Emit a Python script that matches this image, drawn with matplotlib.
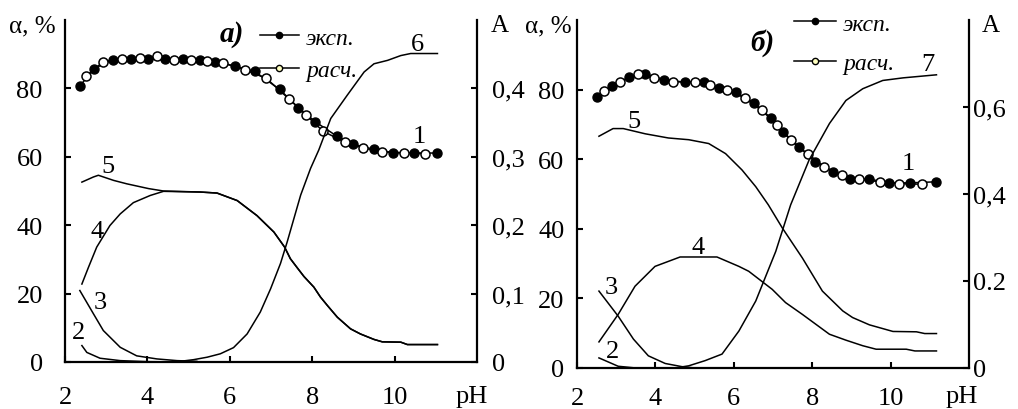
import matplotlib
matplotlib.use('Agg')
import matplotlib.pyplot as plt
from matplotlib.lines import Line2D

plt.rcParams['font.family'] = ['Liberation Serif', 'DejaVu Serif']
plt.rcParams['font.size'] = 19

W, H = 1018, 410

# ---- panel a) ----
ph_exp_a = [2.36, 2.71, 3.16, 3.61, 4.01, 4.42, 4.86, 5.28, 5.63, 6.12, 6.60, 7.21, 7.66,
            8.08, 8.59, 9.00, 9.49, 9.97, 10.47, 11.03]
alpha_exp_a = [80.7, 85.8, 88.4, 88.7, 88.5, 88.5, 88.7, 88.2, 87.8, 86.5, 85.0, 79.7, 74.4,
               70.2, 66.1, 63.6, 62.2, 61.2, 61.1, 61.1]
ph_calc_a = [2.51, 2.93, 3.38, 3.81, 4.23, 4.65, 5.07, 5.45, 5.84, 6.36, 6.89, 7.43, 7.86,
             8.27, 8.80, 9.24, 9.70, 10.23, 10.74]
alpha_calc_a = [83.6, 87.8, 88.7, 89.0, 89.4, 88.2, 88.4, 87.9, 87.5, 85.5, 82.9, 77.0, 72.1,
                67.4, 64.3, 62.6, 61.4, 61.2, 60.9]

ph_a2 = [2.41, 2.53, 2.85, 3.34, 4.0, 4.8]
a2 = [4.8, 2.8, 1.1, 0.4, 0.1, 0.0]
ph_a3 = [2.36, 2.69, 2.93, 3.34, 3.74, 4.23, 4.72, 5.2]
a3 = [20.9, 14.1, 9.2, 4.3, 1.8, 0.9, 0.4, 0.2]
ph_a4 = [2.41, 2.57, 2.77, 3.09, 3.34, 3.66, 4.07, 4.39, 5.28, 5.69, 6.18, 6.66, 7.07, 7.33,
         7.47, 7.64, 7.80, 8.04, 8.20, 8.37, 8.61, 8.93, 9.17, 9.50, 9.70, 10.15, 10.31, 11.04]
a4 = [22.8, 27.7, 33.6, 39.9, 43.3, 46.6, 48.7, 49.9, 49.7, 49.4, 47.2, 42.8, 38.0, 33.6,
      30.2, 27.5, 25.0, 21.9, 19.0, 16.5, 13.1, 9.7, 8.2, 6.6, 5.9, 5.8, 5.1, 5.1]
ph_a5 = [2.41, 2.69, 2.81, 3.18, 3.50, 4.03, 4.39, 5.28, 5.69, 6.18, 6.66, 7.07, 7.33,
         7.47, 7.64, 7.80, 8.04, 8.20, 8.37, 8.61, 8.93, 9.17, 9.50, 9.70, 10.15, 10.31, 11.04]
a5 = [52.6, 54.1, 54.6, 53.1, 52.1, 50.7, 50.0, 49.7, 49.4, 47.2, 42.8, 38.0, 33.6,
      30.2, 27.5, 25.0, 21.9, 19.0, 16.5, 13.1, 9.7, 8.2, 6.6, 5.9, 5.8, 5.1, 5.1]
ph_a6 = [4.3, 4.8, 5.12, 5.45, 5.77, 6.09, 6.42, 6.74, 6.99, 7.23, 7.39, 7.72, 7.96, 8.16,
         8.45, 8.85, 9.26, 9.50, 9.83, 10.15, 10.39, 11.04]
A6 = [0.0, 0.001, 0.0034, 0.007, 0.012, 0.021, 0.041, 0.073, 0.107, 0.144, 0.175, 0.244,
      0.283, 0.31, 0.356, 0.39, 0.424, 0.436, 0.441, 0.448, 0.451, 0.451]

# ---- panel b) ----
ph_exp_b = [2.52, 2.90, 3.32, 3.74, 4.21, 4.76, 5.23, 5.63, 6.06, 6.51, 6.94, 7.26, 7.67,
            8.08, 8.52, 8.97, 9.44, 9.97, 10.49, 11.15]
alpha_exp_b = [78.0, 80.9, 83.5, 84.5, 82.9, 82.1, 82.1, 80.5, 79.2, 76.2, 71.9, 67.8, 63.5,
               59.2, 56.4, 54.3, 54.3, 53.2, 53.2, 53.5]
ph_calc_b = [2.69, 3.09, 3.55, 3.97, 4.46, 5.00, 5.40, 5.83, 6.28, 6.71, 7.11, 7.45, 7.90,
             8.31, 8.75, 9.19, 9.72, 10.21, 10.80]
alpha_calc_b = [79.5, 82.3, 84.5, 83.2, 82.3, 82.1, 81.3, 79.9, 77.6, 74.0, 69.9, 65.4, 61.4,
                57.8, 55.4, 54.3, 53.5, 53.0, 52.8]

ph_b2 = [2.56, 3.05, 3.5, 4.5]
b2 = [2.9, 0.5, 0.0, 0.0]
ph_b3 = [2.56, 3.05, 3.44, 3.82, 4.25, 4.67, 5.0]
b3 = [22.1, 14.9, 8.3, 3.5, 1.3, 0.4, 0.0]
ph_b4 = [2.56, 3.05, 3.48, 3.99, 4.63, 5.57, 6.13, 6.38, 6.98, 7.32, 7.75, 8.44, 8.86, 9.29,
         9.63, 10.40, 10.62, 11.17]
b4 = [7.5, 15.4, 23.5, 29.2, 31.9, 31.9, 29.2, 27.8, 22.6, 18.8, 15.4, 9.7, 8.0, 6.4,
      5.4, 5.4, 4.9, 4.9]
ph_b5 = [2.56, 2.92, 3.18, 3.74, 4.33, 4.85, 5.36, 5.79, 6.21, 6.56, 6.88, 7.24, 7.75, 8.26,
         8.78, 9.03, 9.46, 10.06, 10.66, 10.87, 11.17]
b5 = [66.6, 68.8, 68.8, 67.3, 66.1, 65.6, 64.5, 61.6, 56.9, 52.1, 46.9, 40.2, 31.6, 22.1,
      16.4, 14.5, 12.4, 10.5, 10.4, 9.9, 9.9]
ph_b7 = [4.5, 4.85, 5.27, 5.70, 6.13, 6.56, 7.07, 7.45, 7.92, 8.44, 8.86, 9.29, 9.80,
         10.32, 11.17]
B7 = [0.0, 0.005, 0.017, 0.032, 0.085, 0.154, 0.268, 0.375, 0.478, 0.562, 0.615, 0.642,
      0.661, 0.667, 0.674]

x_ticks = [2, 4, 6, 8, 10]
a_ticks_left = [0, 20, 40, 60, 80]
a_ticks_right = [0, 0.1, 0.2, 0.3, 0.4]
a_right_labels = ['0', '0,1', '0,2', '0,3', '0,4']
b_ticks_right = [0, 0.2, 0.4, 0.6]
b_right_labels = ['0', '0.2', '0,4', '0,6']


def fx(px):
    return px / W


def fy(py):
    return 1 - py / H


fig = plt.figure(figsize=(W / 100, H / 100), dpi=100)
ax_a = fig.add_axes([fx(65), fy(363), fx(477 - 65), (363 - 21) / H])
ax_b = fig.add_axes([fx(577), fy(369), fx(969 - 577), (369 - 21) / H])

lw = 1.1
line_kw = dict(color='black', lw=lw)


def style(ax, tw, ylab_pad, ytw_pad, xpad):
    ax.set_xlim(2, 12)
    ax.set_ylim(0, 100)
    for a in (ax, tw):
        a.spines['top'].set_visible(False)
        for s in a.spines.values():
            s.set_linewidth(1.6)
    tw.spines['left'].set_visible(False)
    tw.spines['bottom'].set_visible(False)
    ax.spines['right'].set_visible(False)
    ax.set_xticks(x_ticks)
    ax.set_yticks(a_ticks_left)
    ax.tick_params(axis='y', direction='in', length=4, width=1.5, pad=ylab_pad)
    ax.tick_params(axis='x', direction='in', length=4, width=1.5, pad=xpad)
    tw.tick_params(axis='y', direction='in', length=4, width=1.5, pad=ytw_pad)


def draw_alpha(ax, ph_e, al_e, ph_c, al_c):
    ax.plot(ph_e, al_e, '-', marker='o', ms=6.5, mfc='black', mec='black', **line_kw, zorder=4)
    ax.plot(ph_c, al_c, '-', marker='o', ms=6.5, mfc='white', mec='black', mew=1.1,
            **line_kw, zorder=5)


legend_handles = [
    Line2D([], [], color='black', lw=1.1, marker='o', ms=4.5, mfc='black', mec='black'),
    Line2D([], [], color='black', lw=1.1, marker='o', ms=4.5, mfc='#ffffc0', mec='black'),
]
legend_labels = ['эксп.', 'расч.']

# panel a
tw_a = ax_a.twinx()
style(ax_a, tw_a, 16, 11, 17)
tw_a.set_ylim(0, 0.5)
tw_a.set_yticks(a_ticks_right)
tw_a.set_yticklabels(a_right_labels)
draw_alpha(ax_a, ph_exp_a, alpha_exp_a, ph_calc_a, alpha_calc_a)
for ph, v in [(ph_a2, a2), (ph_a3, a3), (ph_a4, a4), (ph_a5, a5)]:
    ax_a.plot(ph, v, **line_kw)
tw_a.plot(ph_a6, A6, **line_kw)
for lab, x, y in [('1', 10.59, 66.2), ('5', 3.05, 57.4), ('6', 10.56, 93.1),
                  ('4', 2.78, 38.4), ('3', 2.85, 17.6), ('2', 2.32, 8.8)]:
    ax_a.text(x, y, lab, ha='center', va='center')
ax_a.legend(legend_handles, legend_labels, loc='upper left',
            bbox_to_anchor=(fx(260), fy(28)), bbox_transform=fig.transFigure,
            frameon=False, borderpad=0, borderaxespad=0, handlelength=1.65,
            handletextpad=0.3, labelspacing=0.48, prop={'style': 'italic', 'size': 17})

# panel b
tw_b = ax_b.twinx()
style(ax_b, tw_b, 9, 3, 14)
tw_b.set_ylim(0, 0.8)
tw_b.set_yticks(b_ticks_right)
tw_b.set_yticklabels(b_right_labels)
draw_alpha(ax_b, ph_exp_b, alpha_exp_b, ph_calc_b, alpha_calc_b)
for ph, v in [(ph_b2, b2), (ph_b3, b3), (ph_b4, b4), (ph_b5, b5)]:
    ax_b.plot(ph, v, **line_kw)
tw_b.plot(ph_b7, B7, **line_kw)
for lab, x, y in [('1', 10.44, 58.9), ('5', 3.46, 71.1), ('7', 10.95, 87.4),
                  ('4', 5.10, 34.9), ('3', 2.87, 23.4), ('2', 2.90, 4.9)]:
    ax_b.text(x, y, lab, ha='center', va='center')
ax_b.legend(legend_handles, legend_labels, loc='upper left',
            bbox_to_anchor=(fx(794), fy(14)), bbox_transform=fig.transFigure,
            frameon=False, borderpad=0, borderaxespad=0, handlelength=1.78,
            handletextpad=0.3, labelspacing=0.75, prop={'style': 'italic', 'size': 17})

# axis titles and panel letters
fig.text(fx(32), fy(26), 'α, %', ha='center', va='center', fontsize=18)
fig.text(fx(500), fy(26), 'A', ha='center', va='center', fontsize=18)
fig.text(fx(548), fy(26), 'α, %', ha='center', va='center', fontsize=18)
fig.text(fx(991), fy(26), 'A', ha='center', va='center', fontsize=18)
fig.text(fx(472), fy(397), 'pH', ha='center', va='center')
fig.text(fx(962), fy(397), 'pH', ha='center', va='center')
fig.text(fx(232), fy(34), 'а)', ha='center', va='center', fontsize=21,
         fontweight='bold', fontstyle='italic')
fig.text(fx(762), fy(43), 'б)', ha='center', va='center', fontsize=21,
         fontweight='bold', fontstyle='italic')

fig.savefig('out.png', dpi=100)
